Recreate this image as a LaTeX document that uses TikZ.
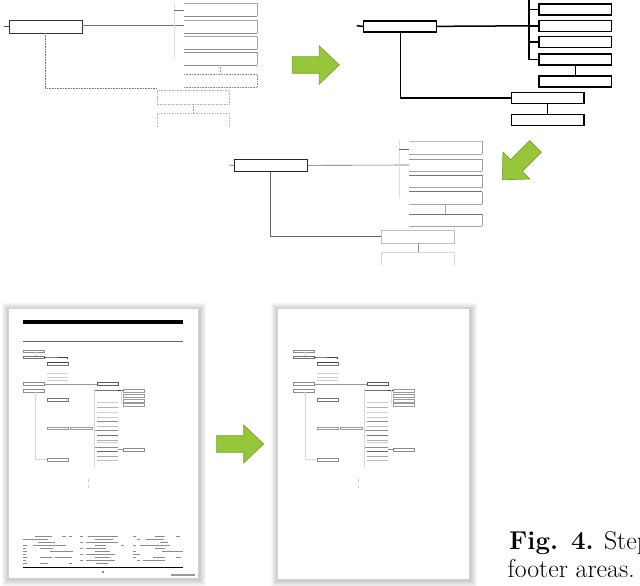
\documentclass[tikz,border=0pt]{standalone}
\usetikzlibrary{positioning}
\definecolor{agreen}{RGB}{152,198,58}
\definecolor{agreenline}{RGB}{118,165,38}
\tikzset{
  garrow/.pic={\filldraw[fill=agreen,draw=agreenline,line width=0.7pt,line join=miter]
     (0,-8.3) -- (27,-8.3) -- (27,-19) -- (47,0) -- (27,19) -- (27,8.3) -- (0,8.3) -- cycle;},
  tbox/.style={draw=black,line width=1.5pt,rectangle,inner sep=0pt,minimum height=11pt,minimum width=72.5pt},
  tline/.style={line width=1.5pt,line cap=rect},
  gline/.style={line width=0.6pt},
  mini/.style={line width=0.4pt},
  fbar/.style={fill=black!45},
}
\newcommand\pageframe[4]{%
  \foreach \i in {1,...,7}{\fill[black,opacity=0.032] ({#1-\i+1},{#2-\i+1.5}) rectangle ({#3+\i+0.5},{#4+\i+1});}
  \filldraw[fill=white,draw=black!18,line width=0.4pt] (#1,#2) rectangle (#3,#4);}
\newcommand\minitree{%
  % column A
  \draw[mini,draw=black!45] (23.3,350) rectangle (44.3,352.3);
  \draw[mini,draw=black!15] (35,352.3) -- (35,355.7);
  \draw[mini,draw=black!55] (23.3,355.7) rectangle (44.3,358.3);
  \draw[mini,draw=black!75,line width=0.5pt] (44.3,357) -- (47.3,357) -- (67.7,357) -- (67.7,358.5);
  \draw[mini,draw=black!55] (47.3,362.3) rectangle (67.7,365);
  \draw[mini,draw=black!75,line width=0.5pt] (47.3,362.3) -- (67.7,362.3);
  \foreach \y in {373.3,376.7,380}{\draw[mini,draw=black!18] (47.3,\y) -- (67.7,\y);}
  \draw[mini,draw=black!45] (23.3,382.3) rectangle (44.3,385);
  \draw[mini,draw=black!40] (44.3,383.7) -- (96.7,383.7);
  \draw[mini,draw=black!65] (96.7,382.3) rectangle (117.7,385);
  \draw[mini,draw=black!45] (23.3,389) rectangle (44.3,391.7);
  \draw[mini,draw=black!15] (35,391.7) -- (35,459) -- (47.3,459);
  % column C
  \draw[mini,draw=black!15] (94.5,389) -- (94.5,468);
  \draw[mini,draw=black!55] (94.5,390) -- (117.7,390);
  \draw[mini,draw=black!80,line width=0.6pt] (117.7,390) -- (123.3,390);
  \draw[mini,draw=black!15] (121,390) -- (121,404);
  \foreach \y in {389,394,399,403.3}{\draw[mini,draw=black!40] (123.3,\y) rectangle (144.3,\y+2.7);}
  \foreach \y/\c in {401.7/20,406.7/30,411.7/18,416.7/20,421/45,425.7/25,430/45,435/55,440/30,442.3/20,446.7/45,451/60,455.7/35,460/25}
     {\draw[mini,draw=black!\c] (96.7,\y) -- (117.7,\y);}
  \draw[mini,draw=black!40] (94.5,446.7) -- (96.7,446.7);
  \draw[mini,draw=black!40] (94.5,430) -- (96.7,430);
  \draw[mini,draw=black!55] (47.3,398.3) rectangle (67.7,401);
  \draw[mini,draw=black!40] (47.3,426.7) rectangle (67.7,429.3);
  \draw[mini,draw=black!40] (70.3,426.7) rectangle (91.7,429.3);
  \draw[mini,draw=black!45] (117.7,449) -- (123.3,449);
  \draw[mini,draw=black!45] (123.3,448.3) rectangle (144.3,451);
  \draw[mini,draw=black!45] (47.3,458.3) rectangle (67.7,461);
  \draw[mini,draw=black!20] (88.3,479) -- (88.3,482) (88.3,485) -- (88.3,488.3);
}
\begin{document}
\begin{tikzpicture}[x=1pt,y=-1pt]
\useasboundingbox (0,0) rectangle (640,586);
\clip (0,0) rectangle (640,586);
\fill[white] (0,0) rectangle (640,586);

%% ---------- top-left diagram (faded original) ----------
\draw[draw=black!80,line width=0.8pt] (9,20) rectangle (82,33);
\coordinate (tlm) at (45.5,33);
\draw[gline,black!70] (3.5,26) -- (9,26);
\draw[gline,black!55] (82,25.5) -- (184,25.5);
\draw[gline,black!12] (174.3,3) -- (174.3,59);
\draw[gline,black!55] (174.3,10) -- (184,10);
\foreach \a/\b in {3.3/16,20/33,36/49,52/65}{
  \draw[gline,black!35] (184,\a) -- (257,\a) -- (257,\b);
  \draw[gline,black!45] (184,\b) -- (257,\b);}
\draw[gline,black!45] (184,52) -- (257,52);
\draw[gline,black!40,densely dotted] (220.7,65) -- (220.7,74);
\draw[gline,black!45,densely dotted] (184,74) -- (257,74) -- (257,87) -- (184,87);
\draw[gline,black!55,densely dotted] (45,33) -- (45,88.7) -- (157,88.7);
\draw[gline,black!30,densely dotted] (157,90.7) rectangle (229,104);
\draw[gline,black!40,densely dotted] (193,104) -- (193,113);
\draw[gline,black!25,densely dotted] (157,127) -- (157,113) -- (229,113) -- (229,127);

%% ---------- top-right diagram (cleaned) ----------
\node[tbox,minimum width=73pt] (m) at (400,26.35) {};
\node[tbox] (b1) at (575.3,9.5) {};
\node[tbox] (b2) at (575.3,25.8) {};
\node[tbox] (b3) at (575.3,42.2) {};
\node[tbox] (b4) at (575.3,59.5) {};
\node[tbox] (b5) at (575.3,81.35) {};
\node[tbox] (b6) at (547.5,97.85) {};
\node[tbox] (b7) at (547.5,119.8) {};
\coordinate (mt) at (357.5,25.8);
\coordinate (vtop) at (529,0);
\coordinate (vbot) at (529,59.5);
\draw[tline] (mt) -- (m.west);
\draw[tline] (m.east) -- (529,25.8);
\draw[tline] (vtop) -- (vbot) -- (b4.west);
\draw[tline] (529,9.5) -- (b1.west);
\draw[tline] (529,25.8) -- (b2.west);
\draw[tline] (529,42.2) -- (b3.west);
\draw[tline] (b4.south) -- (b5.north);
\draw[tline] (400.7,32.7) |- (b6.west);
\draw[tline] (b6.south) -- (b7.north);

%% ---------- middle diagram ----------
\node[draw=black!85,line width=0.8pt,inner sep=0pt,minimum width=73pt,minimum height=12.7pt] (mm) at (270.5,165.35) {};
\coordinate (mmt) at (229,165);
\draw[gline,black!70] (mmt) -- (mm.west);
\draw[gline,black!60] (mm.east) -- (409.3,165);
\draw[gline,black!12] (399.3,140) -- (399.3,198.3);
\draw[gline,black!60] (399.3,149) -- (409.3,149);
\foreach \a/\b/\t in {141/154/25,159/171/40,175.3/187.7/55,191.7/204.3/55,214/226/55}{
  \draw[gline,black!\t] (409.3,\a) -- (482.3,\a);
  \draw[gline,black!40] (482.3,\a) -- (482.3,\b);
  \draw[gline,black!35] (409.3,\b) -- (482.3,\b);}
\draw[gline,black!35] (445.7,204.3) -- (445.7,214);
\draw[gline,black!60] (270.3,171.7) -- (270.3,236) -- (381.7,236);
\draw[gline,black!25] (381.7,230) rectangle (454.7,243.3);
\draw[gline,black!45] (418,243.3) -- (418,252.3);
\draw[gline,black!15] (381.7,265) -- (381.7,252.3) -- (454.7,252.3) -- (454.7,265);

%% ---------- green arrows ----------
\pic at (292.3,65) {garrow};
\pic[rotate=225] at (535.5,146.5) {garrow};
\pic at (216.7,444) {garrow};

%% ---------- left page (original) ----------
\pageframe{8.3}{308.3}{198.3}{578.3}
\fill[black] (23.3,320) rectangle (182.7,324);
\draw[black!60,line width=0.5pt] (23.3,341) -- (182.7,341);
\minitree
\foreach \x/\xx/\y in {
  35/52/536.5, 62/66/536.5, 69/72/536.5, 23/48/539.5, 38/55/542.5, 23/27/545.5, 33/66/545.5,
  23/26/548.5, 40/53/548.5, 23/27/551.5, 50/73/551.5, 23/26/554.5, 23/27/557.5, 40/52/557.5,
  55/72/557.5, 23/26/560.5, 23/27/563.5, 40/48/563.5, 69/72/563.5,
  80/83/536.5, 88/118/536.5, 95/113/539.5, 80/83/542.5, 86/118/542.5, 95/106/545.5, 121/124/545.5,
  80/83/548.5, 86/106/548.5, 95/110/551.5, 80/83/554.5, 86/115/554.5, 95/110/557.5, 80/83/560.5,
  86/115/560.5, 96/108/563.5,
  133/136/536.5, 155/165/536.5, 176/180/536.5, 137/140/539.5, 146/164/539.5, 160/168/542.5,
  133/136/545.5, 140/170/545.5, 155/165/548.5, 133/136/551.5, 162/183/551.5, 133/140/554.5,
  133/136/557.5, 153/165/557.5, 176/181/557.5, 137/140/560.5, 143/165/560.5}
  {\fill[fbar] (\x,\y-0.6) rectangle (\xx,\y+0.6);}
\draw[black,line width=0.9pt] (23.3,567.7) -- (182.7,567.7);
\fill[black!45] (102,571.2) rectangle (103.5,572.8);
\fill[black!40] (171,574.4) rectangle (195,575.8);

%% ---------- right page (cleaned) ----------
\pageframe{277.3}{308.3}{469.3}{579.3}
\begin{scope}[xshift=270pt]
\minitree
\end{scope}

%% ---------- caption ----------
\node[anchor=base west,inner sep=0pt,font=\fontsize{25.8}{30}\selectfont] (cap1) at (509,549) {\textbf{Fig. 4.} Step};
\node[anchor=base west,inner sep=0pt,font=\fontsize{25.8}{30}\selectfont] (cap2) at (507.5,577.5) {footer areas.};
\end{tikzpicture}
\end{document}
